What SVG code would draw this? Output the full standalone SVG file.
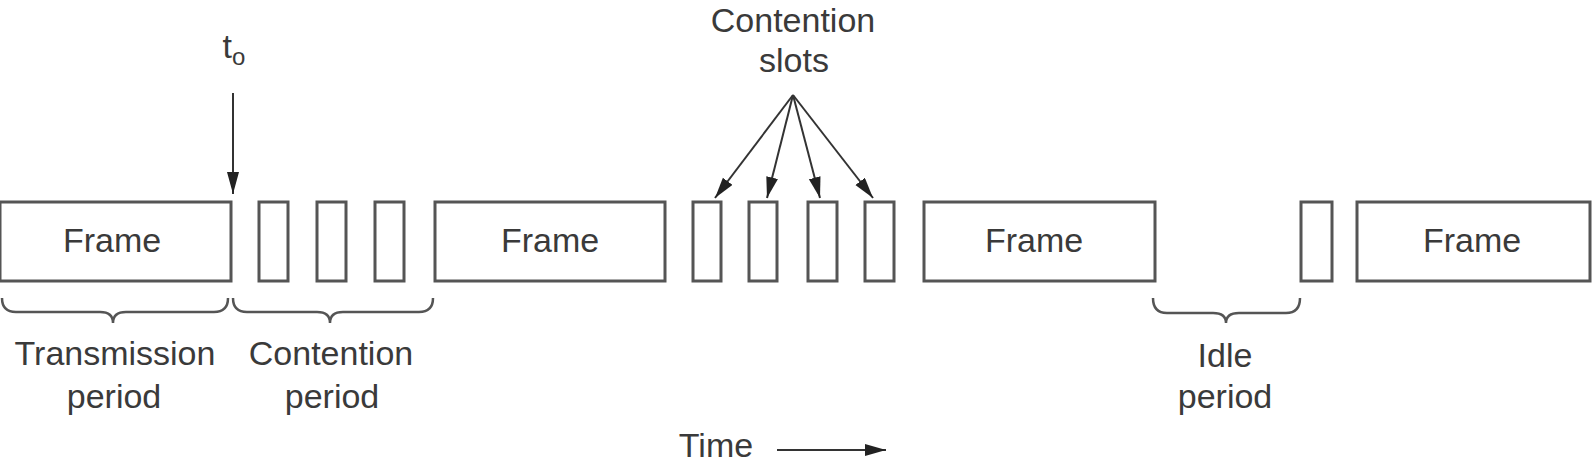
<svg xmlns="http://www.w3.org/2000/svg" width="1592" height="466" viewBox="0 0 1592 466">
  <style>
    .box { fill: #ffffff; stroke: #555555; stroke-width: 3; }
    .lbl { font-family: "Liberation Sans", Arial, sans-serif; font-size: 34px; fill: #3a3a3a; text-anchor: middle; }
    .conn { fill: none; stroke: #333333; stroke-width: 2; }
    .brace { fill: none; stroke: #555555; stroke-width: 2.5; }
  </style>
  <defs>
    <marker id="ah" markerUnits="userSpaceOnUse" markerWidth="24" markerHeight="14" refX="22" refY="6" orient="auto">
      <path d="M0,0 L22,6 L0,12 Z" fill="#222222"/>
    </marker>
    <marker id="ahs" markerUnits="userSpaceOnUse" markerWidth="24" markerHeight="14" refX="21" refY="6" orient="auto">
      <path d="M0,0 L21,6 L0,12 Z" fill="#222222"/>
    </marker>
  </defs>
  <rect x="0" y="0" width="1592" height="466" fill="#ffffff"/>

  <g id="frame1"><rect class="box" x="0" y="202" width="231" height="79"/><text class="lbl" x="112" y="252">Frame</text></g>
  <g id="slot1"><rect class="box" x="259" y="202" width="29" height="79"/></g>
  <g id="slot2"><rect class="box" x="317" y="202" width="29" height="79"/></g>
  <g id="slot3"><rect class="box" x="375" y="202" width="29" height="79"/></g>
  <g id="frame2"><rect class="box" x="435" y="202" width="230" height="79"/><text class="lbl" x="550" y="252">Frame</text></g>
  <g id="slot4"><rect class="box" x="693" y="202" width="28" height="79"/></g>
  <g id="slot5"><rect class="box" x="749" y="202" width="28" height="79"/></g>
  <g id="slot6"><rect class="box" x="808" y="202" width="29" height="79"/></g>
  <g id="slot7"><rect class="box" x="865" y="202" width="29" height="79"/></g>
  <g id="frame3"><rect class="box" x="924" y="202" width="231" height="79"/><text class="lbl" x="1034" y="252">Frame</text></g>
  <g id="slot8"><rect class="box" x="1301" y="202" width="31" height="79"/></g>
  <g id="frame4"><rect class="box" x="1357" y="202" width="233" height="79"/><text class="lbl" x="1472" y="252">Frame</text></g>

  <g id="t0"><text class="lbl" x="234" y="58">t<tspan font-size="24" dy="7">o</tspan></text></g>
  <g id="contention-slots"><text class="lbl" x="793" y="32">Contention</text><text class="lbl" x="794" y="72">slots</text></g>

  <g id="transmission-period">
    <path class="brace" d="M2,298 Q2,312 16,312 L100,312 Q113,312 113,323 Q113,312 126,312 L214,312 Q228,312 228,298"/>
    <text class="lbl" x="115" y="365">Transmission</text><text class="lbl" x="114" y="408">period</text>
  </g>
  <g id="contention-period">
    <path class="brace" d="M233,298 Q233,312 247,312 L317,312 Q330,312 330,323 Q330,312 343,312 L419,312 Q433,312 433,298"/>
    <text class="lbl" x="331" y="365">Contention</text><text class="lbl" x="332" y="408">period</text>
  </g>
  <g id="idle-period">
    <path class="brace" d="M1153,298 Q1153,313 1167,313 L1213,313 Q1226,313 1226,323 Q1226,313 1239,313 L1286,313 Q1300,313 1300,298"/>
    <text class="lbl" x="1225" y="367">Idle</text><text class="lbl" x="1225" y="408">period</text>
  </g>
  <g id="time"><text class="lbl" x="716" y="457">Time</text></g>

  <g id="connectors">
    <line class="conn" x1="233" y1="93" x2="233" y2="194" marker-end="url(#ah)"/>
    <line class="conn" x1="793" y1="95" x2="715" y2="198" marker-end="url(#ahs)"/>
    <line class="conn" x1="793" y1="95" x2="767" y2="198" marker-end="url(#ahs)"/>
    <line class="conn" x1="793" y1="95" x2="820" y2="198" marker-end="url(#ahs)"/>
    <line class="conn" x1="793" y1="95" x2="873" y2="198" marker-end="url(#ahs)"/>
    <line class="conn" x1="777" y1="450" x2="886" y2="450" marker-end="url(#ahs)"/>
  </g>
</svg>
